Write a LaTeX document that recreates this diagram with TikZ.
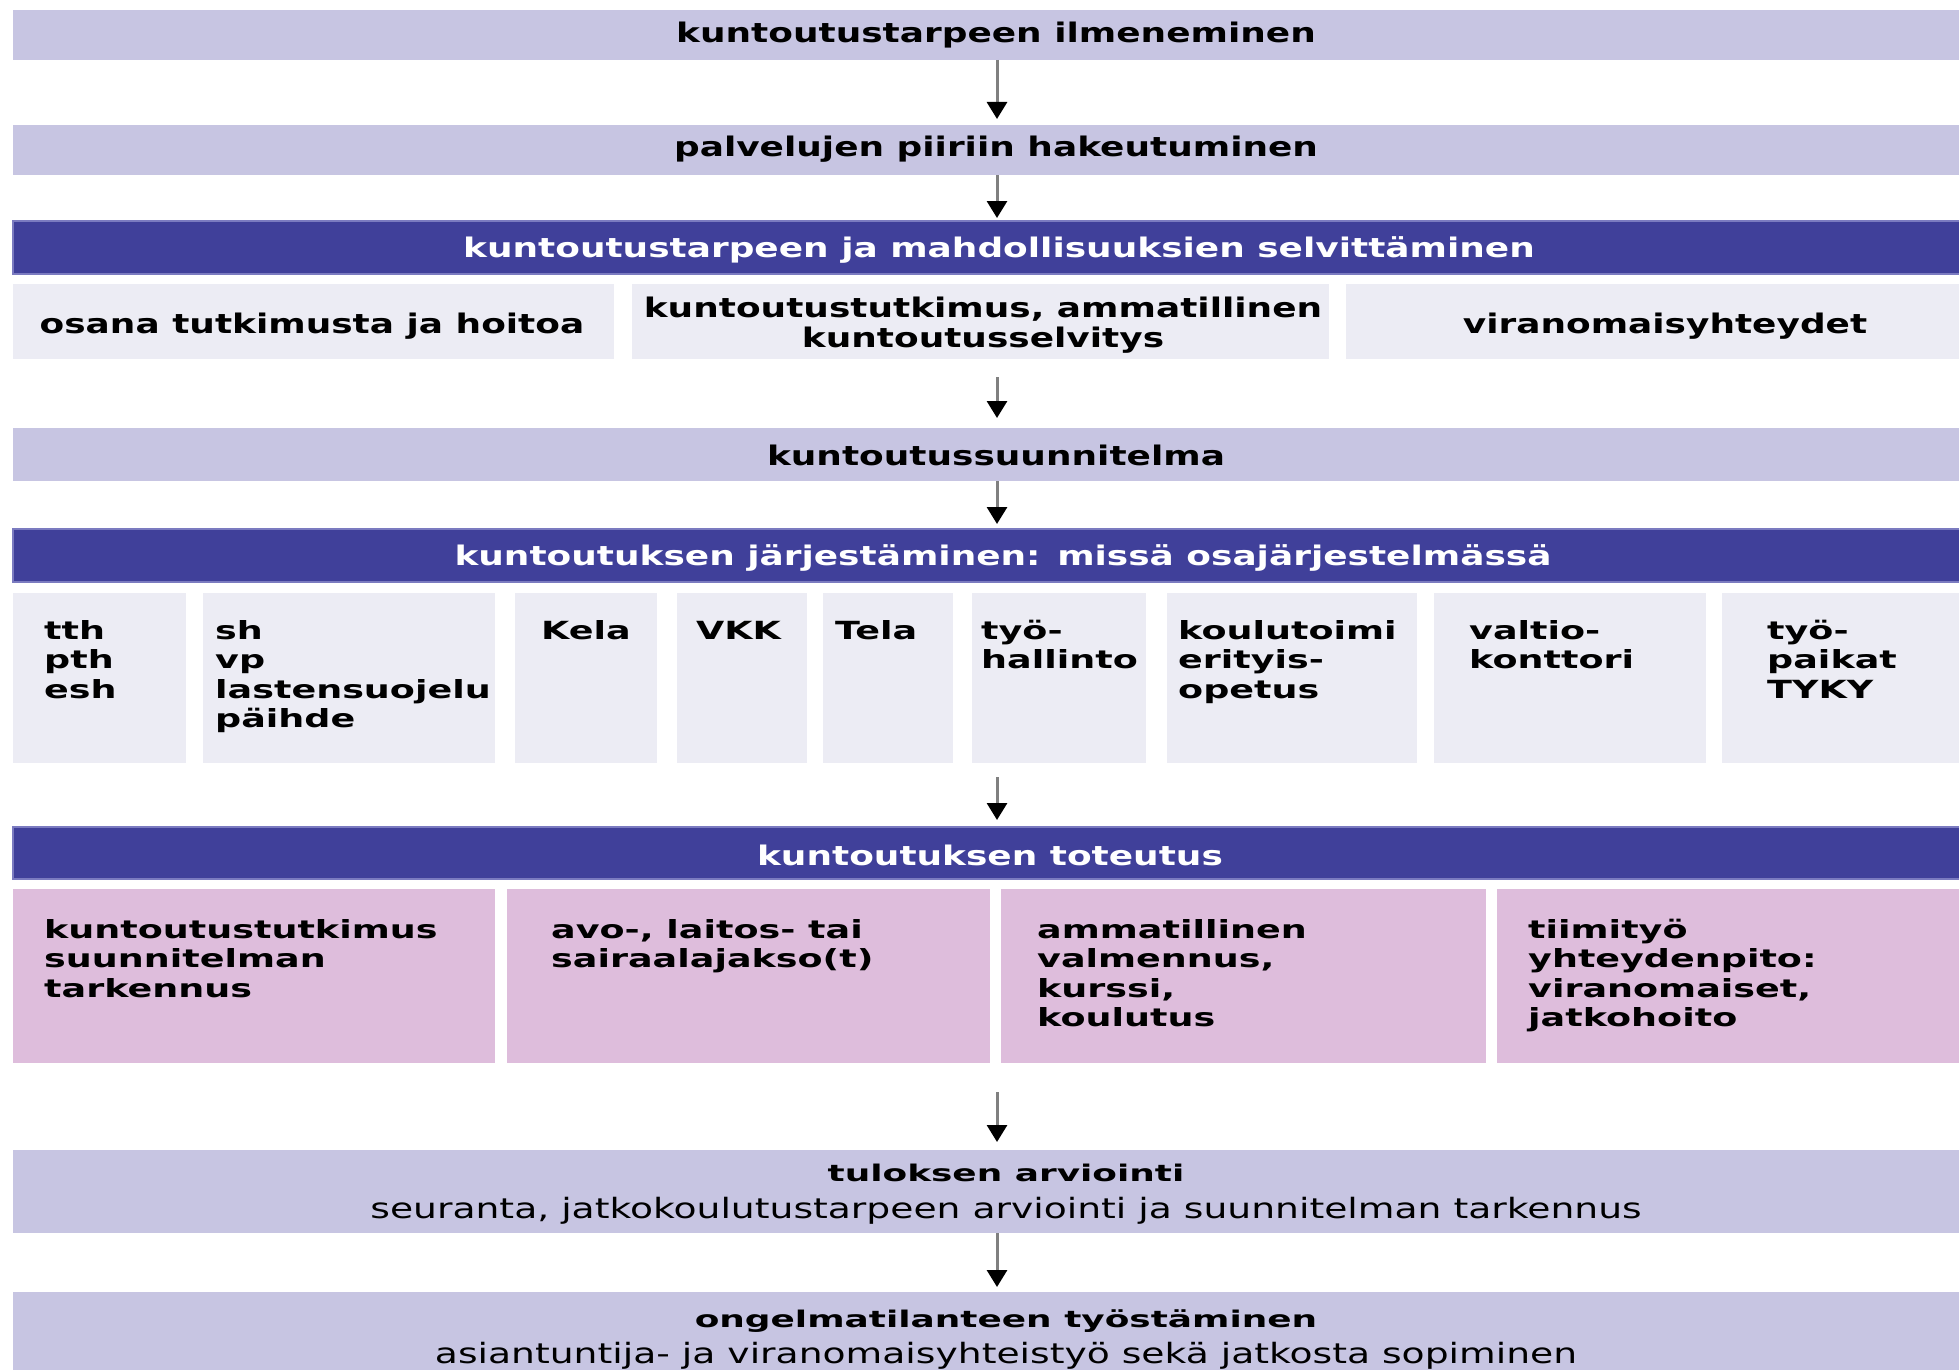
\documentclass[tikz,border=0pt]{standalone}
\usepackage{fontspec}
\setmainfont{DejaVu Sans}[FakeStretch=1.33]
\newfontfamily\fontA{DejaVu Sans}[FakeStretch=1.33]
\newfontfamily\fontB{DejaVu Sans}[FakeStretch=1.46]
\newfontfamily\fontC{DejaVu Sans}[FakeStretch=1.56]
\newfontfamily\fontD{DejaVu Sans}[FakeStretch=1.345]
\usetikzlibrary{arrows.meta}
\definecolor{bandc}{HTML}{C7C5E2}
\definecolor{darkc}{HTML}{40409A}
\definecolor{darkb}{HTML}{7B7BC0}
\definecolor{greyc}{HTML}{ECECF4}
\definecolor{pinkc}{HTML}{DEBDDC}
\definecolor{shaftc}{HTML}{808080}
\tikzset{
  x=1pt,y=-1pt,
  box/.style={rectangle,inner sep=0pt,outer sep=0pt,draw=none},
  band/.style={box,fill=bandc},
  darkband/.style={box,fill=darkc,draw=darkb,line width=2pt},
  greybox/.style={box,fill=greyc},
  pinkbox/.style={box,fill=pinkc},
  ttl/.style={inner sep=0pt,anchor=base,font=\fontA\fontsize{27}{30}\selectfont\bfseries},
  wttl/.style={ttl,text=white},
  cell/.style={inner sep=0pt,anchor=base west,font=\fontB\fontsize{25}{29.6}\selectfont\bfseries,align=left},
  sub/.style={inner sep=0pt,anchor=base,font=\fontC\fontsize{23}{27}\selectfont\bfseries},
  subr/.style={inner sep=0pt,anchor=base,font=\fontD\fontsize{28}{30}\selectfont},
  arr/.style={draw=shaftc,line width=3pt,-{Triangle[width=20pt,length=17pt,color=black]}},
}
\newcommand{\rbox}[6]{% style, name, x1, y1, x2, y2
  \node[#1,anchor=north west,minimum width=#5pt-#3pt,minimum height=#6pt-#4pt] (#2) at (#3,#4) {};}
\begin{document}
\begin{tikzpicture}
\useasboundingbox[fill=white] (0,0) rectangle (1959,1370);
% bands
\rbox{band}{b1}{13}{10}{1979}{60}
\rbox{band}{b2}{13}{125}{1979}{175}
\rbox{darkband}{d1}{13}{221}{1979}{274}
\rbox{greybox}{r1}{13}{284}{614}{359}
\rbox{greybox}{r2}{632}{284}{1329}{359}
\rbox{greybox}{r3}{1346}{284}{1984}{359}
\rbox{band}{s1}{13}{428}{1979}{481}
\rbox{darkband}{d2}{13}{529}{1979}{582}
\rbox{greybox}{g1}{13}{593}{186}{763}
\rbox{greybox}{g2}{203}{593}{495}{763}
\rbox{greybox}{g3}{515}{593}{657}{763}
\rbox{greybox}{g4}{677}{593}{807}{763}
\rbox{greybox}{g5}{823}{593}{953}{763}
\rbox{greybox}{g6}{972}{593}{1146}{763}
\rbox{greybox}{g7}{1167}{593}{1417}{763}
\rbox{greybox}{g8}{1434}{593}{1706}{763}
\rbox{greybox}{g9}{1722}{593}{1979}{763}
\rbox{darkband}{d3}{13}{827}{1979}{879}
\rbox{pinkbox}{p1}{13}{889}{495}{1063}
\rbox{pinkbox}{p2}{507}{889}{990}{1063}
\rbox{pinkbox}{p3}{1001}{889}{1486}{1063}
\rbox{pinkbox}{p4}{1497}{889}{1979}{1063}
\rbox{band}{t1}{13}{1150}{1979}{1233}
\rbox{band}{o1}{13}{1292}{1979}{1390}
% texts
\node[ttl] (tb1) at (996,43) {kuntoutustarpeen ilmeneminen};
\node[ttl] (tb2) at (996,157) {palvelujen piiriin hakeutuminen};
\node[wttl] (td1) at (999,257) {kuntoutustarpeen ja mahdollisuuksien selvittäminen};
\node[ttl] (tr1) at (312,333) {osana tutkimusta ja hoitoa};
\node[ttl] (tr2a) at (983,317) {kuntoutustutkimus, ammatillinen};
\node[ttl] (tr2b) at (983,347) {kuntoutusselvitys};
\node[ttl] (tr3) at (1665,333) {viranomaisyhteydet};
\node[ttl] (ts1) at (996,465) {kuntoutussuunnitelma};
\node[wttl] (td2) at (1003,565) {kuntoutuksen järjestäminen: missä osajärjestelmässä};
\node[cell] (tg1) at (44,639) {\parbox[t]{200pt}{\raggedright tth\\pth\\esh}};
\node[cell] (tg2) at (215,639) {\parbox[t]{300pt}{\raggedright sh\\vp\\lastensuojelu\\päihde}};
\node[cell] (tg3) at (541,639) {Kela};
\node[cell] (tg4) at (696,639) {VKK};
\node[cell] (tg5) at (835,639) {Tela};
\node[cell] (tg6) at (981,639) {\parbox[t]{200pt}{\raggedright työ-\\hallinto}};
\node[cell] (tg7) at (1178,639) {\parbox[t]{300pt}{\raggedright koulutoimi\\erityis-\\opetus}};
\node[cell] (tg8) at (1469,639) {\parbox[t]{300pt}{\raggedright valtio-\\konttori}};
\node[cell] (tg9) at (1767,639) {\parbox[t]{200pt}{\raggedright työ-\\paikat\\TYKY}};
\node[wttl] (td3) at (990,865) {kuntoutuksen toteutus};
\node[cell] (tp1) at (44,938) {\parbox[t]{440pt}{\raggedright kuntoutustutkimus\\suunnitelman\\tarkennus}};
\node[cell] (tp2) at (551,938) {\parbox[t]{440pt}{\raggedright avo-, laitos- tai\\sairaalajakso(t)}};
\node[cell] (tp3) at (1037,938) {\parbox[t]{440pt}{\raggedright ammatillinen\\valmennus,\\kurssi,\\koulutus}};
\node[cell] (tp4) at (1528,938) {\parbox[t]{440pt}{\raggedright tiimityö\\yhteydenpito:\\viranomaiset,\\jatkohoito}};
\node[sub] (tt1) at (1006,1181) {tuloksen arviointi};
\node[subr] (tt2) at (1006,1218) {seuranta, jatkokoulutustarpeen arviointi ja suunnitelman tarkennus};
\node[sub] (to1) at (1006,1327) {ongelmatilanteen työstäminen};
\node[subr] (to2) at (1006,1363) {asiantuntija- ja viranomaisyhteistyö sekä jatkosta sopiminen};
% arrows
\coordinate (ax) at (997,0);
\coordinate (a3) at (997,377);
\coordinate (a5) at (997,777);
\coordinate (a6) at (997,1092);
\draw[arr,shorten >=6pt] (b1.south -| ax) -- (b2.north -| ax);
\draw[arr,shorten >=3pt] (b2.south -| ax) -- (d1.north -| ax);
\draw[arr,shorten >=10pt] (a3) -- (s1.north -| ax);
\draw[arr,shorten >=5pt] (s1.south -| ax) -- (d2.north -| ax);
\draw[arr,shorten >=7pt] (a5) -- (d3.north -| ax);
\draw[arr,shorten >=8pt] (a6) -- (t1.north -| ax);
\draw[arr,shorten >=5pt] (t1.south -| ax) -- (o1.north -| ax);
\end{tikzpicture}
\end{document}
